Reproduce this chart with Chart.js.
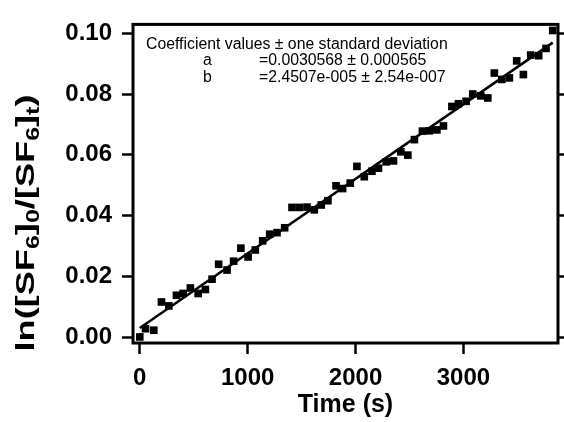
<!DOCTYPE html>
<html>
<head>
<meta charset="utf-8">
<script src="https://cdn.jsdelivr.net/npm/chart.js@4.4.0/dist/chart.umd.min.js"></script>
<style>
  html, body { margin: 0; padding: 0; background: #fff; }
</style>
</head>
<body>
<canvas id="grafico" width="564" height="422"></canvas>
<script>
// dati
var tempi = [0, 53, 130, 201, 269, 340, 402, 469, 541, 608, 670, 731, 809, 870, 937, 1004, 1071, 1139, 1204, 1272,
  1343, 1411, 1479, 1550, 1618, 1682, 1744, 1819, 1880, 1951, 2013, 2081, 2152, 2213, 2284, 2352, 2420, 2485, 2546, 2620,
  2685, 2754, 2815, 2893, 2954, 3025, 3087, 3161, 3226, 3287, 3356, 3426, 3494, 3556, 3624, 3698, 3766, 3828];
var valori = [0.0001, 0.0028, 0.0023, 0.0116, 0.0103, 0.0138, 0.0144, 0.0162, 0.0144, 0.0157, 0.0191, 0.0240, 0.0221, 0.0250, 0.0293, 0.0264, 0.0287, 0.0317, 0.0339, 0.0344,
  0.0360, 0.0427, 0.0427, 0.0428, 0.0419, 0.0435, 0.0449, 0.0498, 0.0489, 0.0507, 0.0562, 0.0528, 0.0546, 0.0556, 0.0577, 0.0580, 0.0610, 0.0599, 0.0650, 0.0678,
  0.0679, 0.0682, 0.0695, 0.0759, 0.0768, 0.0776, 0.0800, 0.0794, 0.0787, 0.0869, 0.0848, 0.0853, 0.0909, 0.0864, 0.0928, 0.0926, 0.0950, 0.1009];
// retta di fit (estremi)
var rettaX = [0, 3828];
var rettaY = [0.00306, 0.0969];

var tickX = [0, 1000, 2000, 3000];
var tickY = [0, 0.02, 0.04, 0.06, 0.08, 0.10];

var titoloX = 'Time (s)';
var pezziTitoloY = [['ln([SF', false], ['6', true], [']', false], ['0', true], ['/[SF', false], ['6', true], [']', false], ['t', true], [')', false]];
var righeCoeff = [
  ['Coefficient values \u00b1 one standard deviation', ''],
  ['a', '=0.0030568 \u00b1 0.000565'],
  ['b', '=2.4507e-005 \u00b1 2.54e-007']
];

var FONT = '"Liberation Sans", Arial, Helvetica, sans-serif';

var puntiDati = [];
for (var i = 0; i < tempi.length; i++) {
  puntiDati.push({ x: tempi[i], y: valori[i] });
}
var puntiRetta = [];
for (var j = 0; j < rettaX.length; j++) {
  puntiRetta.push({ x: rettaX[j], y: rettaY[j] });
}

var cornice = {
  id: 'cornice',
  afterDatasetsDraw: function(chart) {
    var ctx = chart.ctx;
    var a = chart.chartArea;
    ctx.save();
    ctx.strokeStyle = '#000';
    ctx.lineWidth = 3;
    ctx.strokeRect(a.left, a.top, a.right - a.left, a.bottom - a.top);
    ctx.restore();
  }
};

var testi = {
  id: 'testi',
  afterDraw: function(chart) {
    var ctx = chart.ctx;
    ctx.save();
    ctx.fillStyle = '#000';
    // riquadro coefficienti
    ctx.font = '15.8px ' + FONT;
    ctx.textBaseline = 'alphabetic';
    ctx.fillText(righeCoeff[0][0], 146, 48.5);
    for (var r = 1; r < righeCoeff.length; r++) {
      ctx.fillText(righeCoeff[r][0], 203, 48.5 + r * 16.5);
      ctx.fillText(righeCoeff[r][1], 259, 48.5 + r * 16.5);
    }
    // titolo asse y con pedici
    ctx.translate(27, 223);
    ctx.rotate(-Math.PI / 2);
    ctx.textBaseline = 'middle';
    var fontGrande = 'bold 26px ' + FONT;
    var fontPiccolo = 'bold 18px ' + FONT;
    var totale = 0;
    pezziTitoloY.forEach(function(p) {
      ctx.font = p[1] ? fontPiccolo : fontGrande;
      totale += ctx.measureText(p[0]).width;
    });
    ctx.scale(257 / totale, 1);
    var x = -totale / 2;
    pezziTitoloY.forEach(function(p) {
      ctx.font = p[1] ? fontPiccolo : fontGrande;
      ctx.fillText(p[0], x, p[1] ? 7 : 0);
      x += ctx.measureText(p[0]).width;
    });
    ctx.restore();
  }
};

var grafico = new Chart(document.getElementById('grafico'), {
  type: 'scatter',
  data: {
    datasets: [{
      data: puntiDati,
      pointStyle: 'rect',
      pointRadius: 5.4,
      pointBorderWidth: 0,
      backgroundColor: '#000',
      borderColor: '#000',
      showLine: false,
      clip: false
    }, {
      data: puntiRetta,
      showLine: true,
      pointRadius: 0,
      borderColor: '#000',
      borderWidth: 2.5,
      clip: false
    }]
  },
  options: {
    responsive: false,
    animation: false,
    layout: { padding: { top: 17, left: 0, right: 0, bottom: 0 } },
    plugins: {
      legend: { display: false },
      tooltip: { enabled: false }
    },
    scales: {
      x: {
        type: 'linear',
        position: 'bottom',
        min: -63,
        max: 3877,
        afterFit: function(s) { s.height = 79; },
        afterBuildTicks: function(s) { s.ticks = tickX.map(function(v) { return { value: v }; }); },
        border: { display: false },
        grid: { drawOnChartArea: false, drawTicks: true, tickLength: 11, tickWidth: 2.5, tickColor: '#000' },
        ticks: {
          color: '#000', font: { family: FONT, size: 24, weight: 'bold' }, padding: 10, maxRotation: 0,
          callback: function(v) { return String(v); }
        },
        title: { display: true, text: titoloX, color: '#000', font: { family: FONT, size: 25, weight: 'bold' }, padding: { top: 0, bottom: 2 } }
      },
      y: {
        type: 'linear',
        position: 'left',
        min: -0.0019,
        max: 0.1029,
        afterFit: function(s) { s.width = 133; },
        afterBuildTicks: function(s) { s.ticks = tickY.map(function(v) { return { value: v }; }); },
        border: { display: false },
        grid: { drawOnChartArea: false, drawTicks: true, tickLength: 11, tickWidth: 2.5, tickColor: '#000' },
        ticks: {
          color: '#000', font: { family: FONT, size: 24, weight: 'bold' }, padding: 10,
          callback: function(v) { return v.toFixed(2); }
        }
      },
      y2: {
        type: 'linear',
        position: 'right',
        min: -0.0019,
        max: 0.1029,
        afterFit: function(s) { s.width = 6; },
        afterBuildTicks: function(s) { s.ticks = tickY.map(function(v) { return { value: v }; }); },
        border: { display: false },
        grid: { drawOnChartArea: false, drawTicks: true, tickLength: 8, tickWidth: 2.5, tickColor: '#000' },
        ticks: { display: false }
      }
    }
  },
  plugins: [cornice, testi]
});
</script>
</body>
</html>
